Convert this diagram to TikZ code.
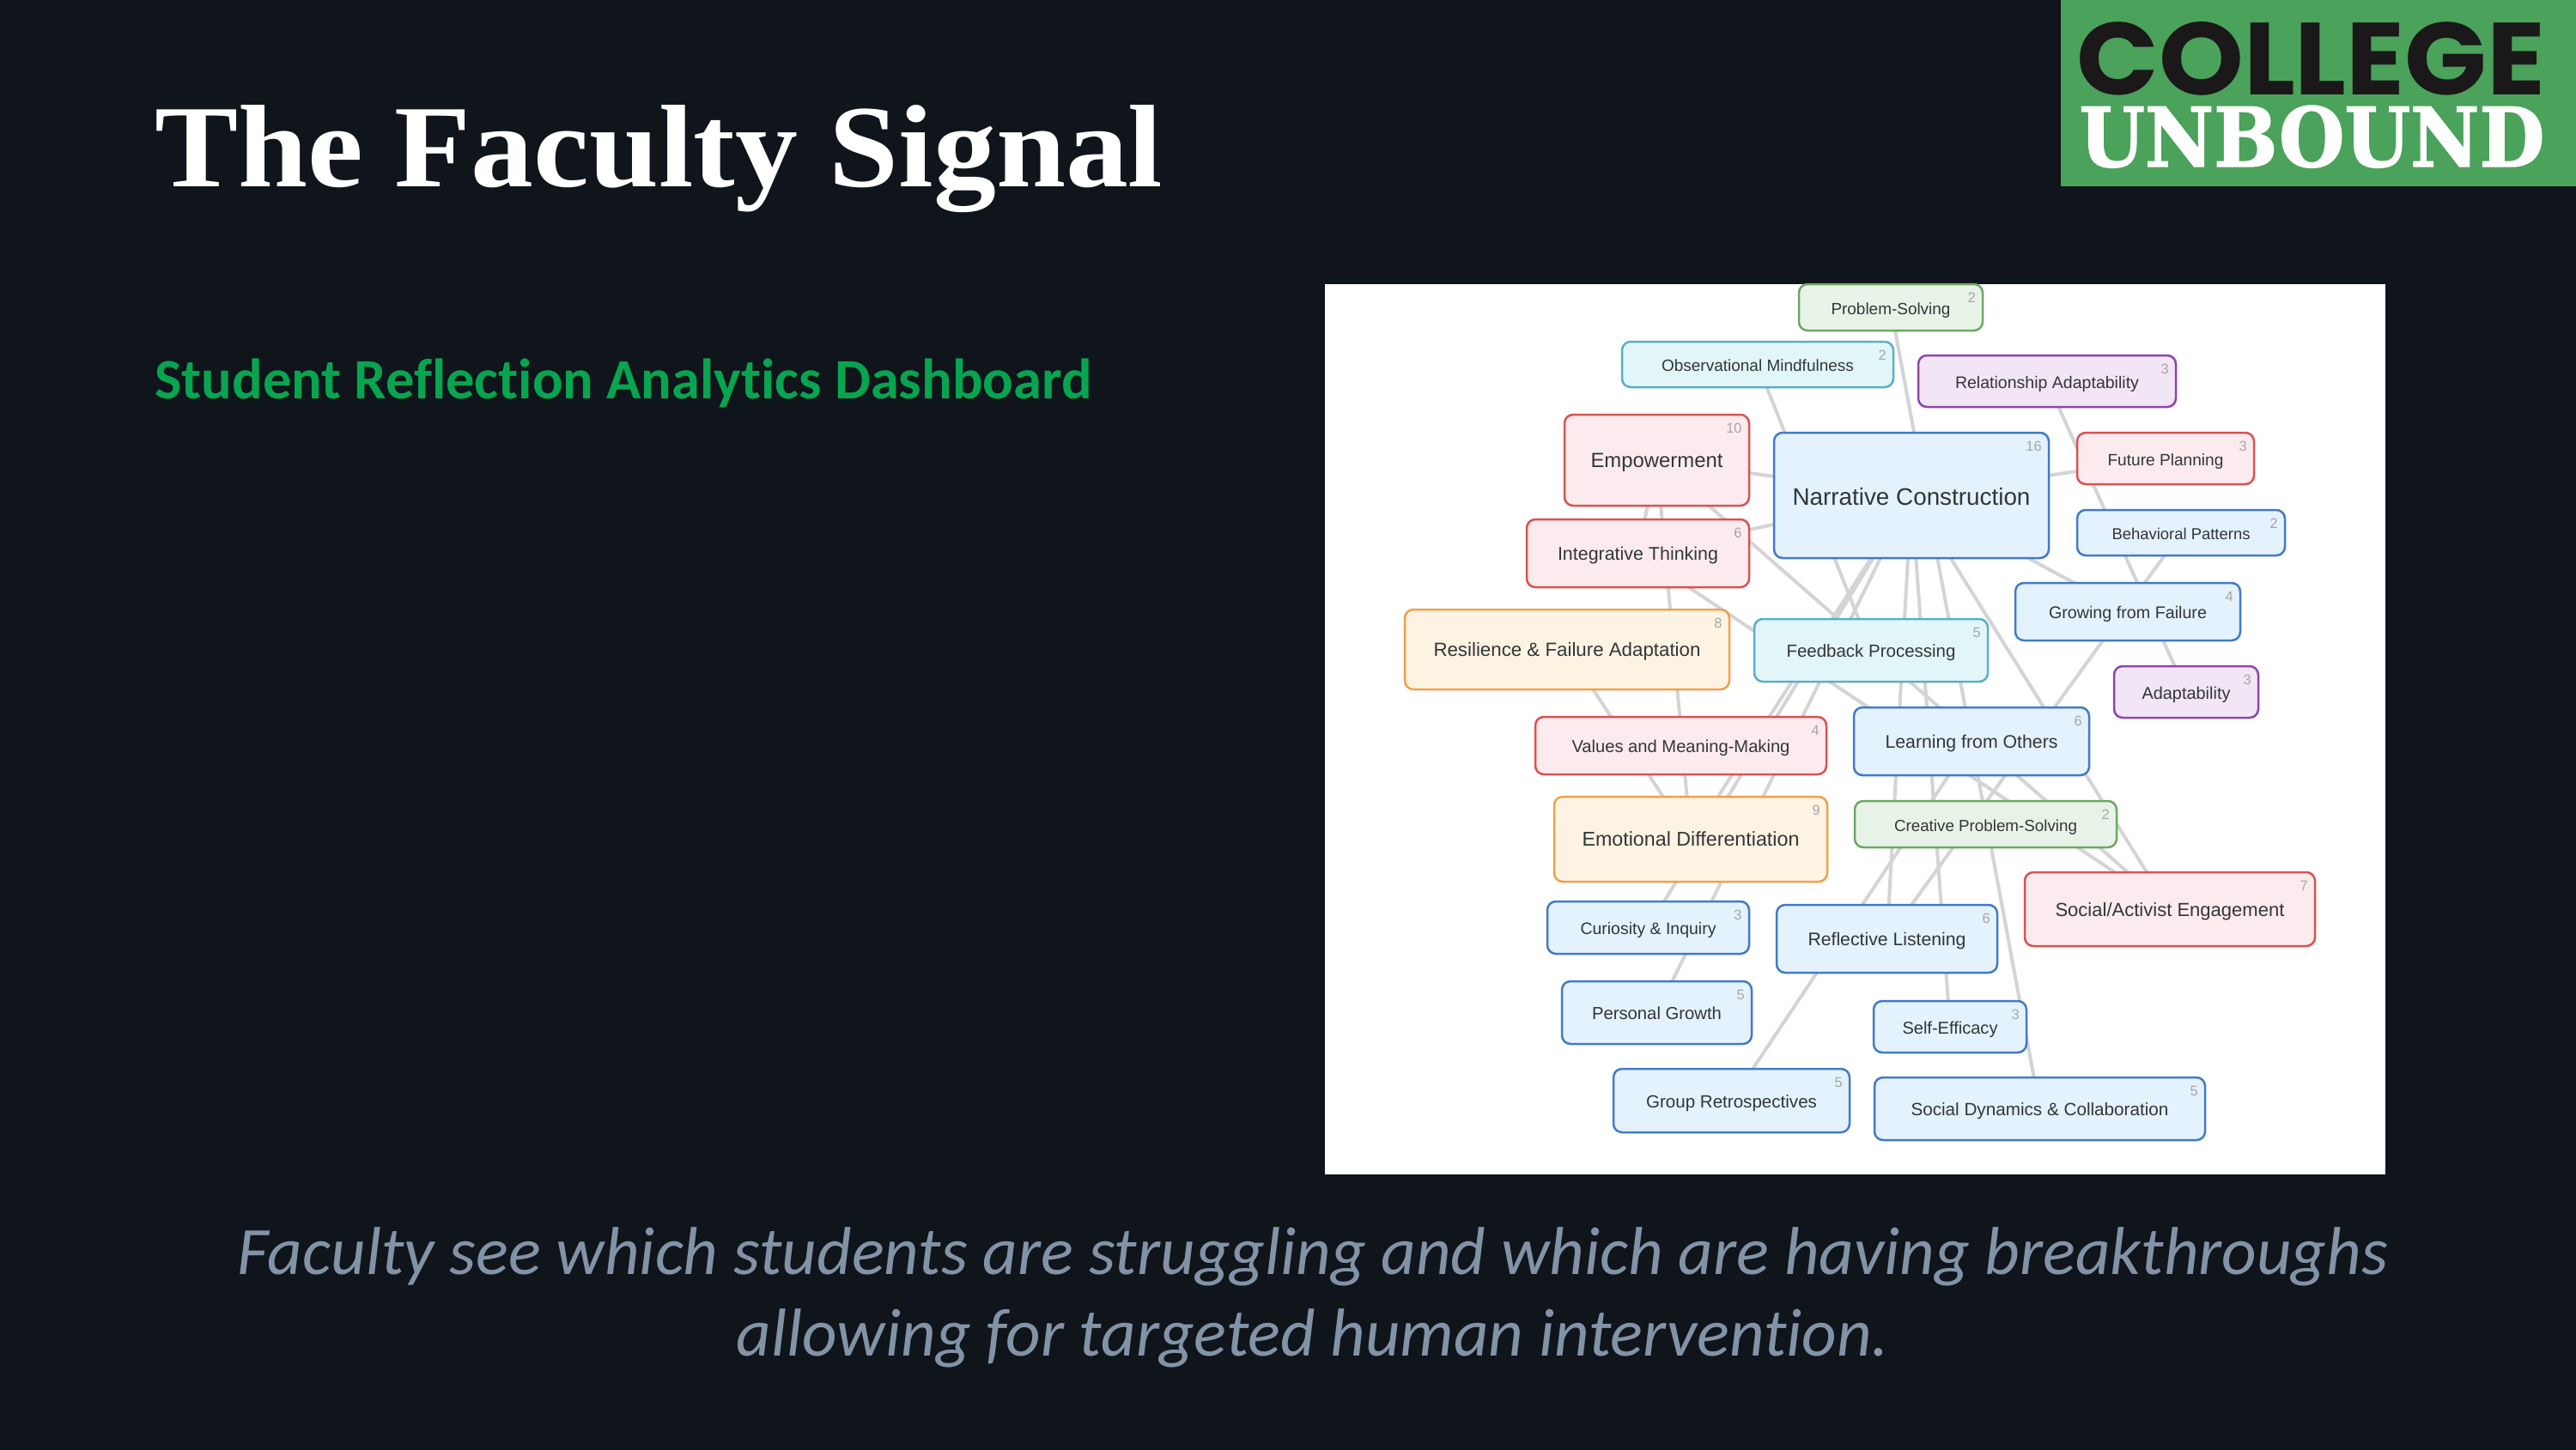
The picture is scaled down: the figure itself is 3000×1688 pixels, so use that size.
\documentclass[tikz,border=0pt]{standalone}
\usepackage{fontspec}
\usepackage{graphicx}
\setmainfont{Liberation Sans}
\newfontfamily\titlefont{Liberation Serif}
\newfontfamily\calfont[Ligatures=NoCommon]{Carlito}
\newfontfamily\logoa{Poppins}
\newfontfamily\logob[FakeBold=1.5]{DejaVu Serif}
\definecolor{pagebg}{HTML}{0F151A}
\definecolor{edgegray}{HTML}{D4D4D4}
\definecolor{txt}{HTML}{333638}
\definecolor{cnt}{HTML}{A6A6A6}
\definecolor{logogreen}{HTML}{4AA25B}
\definecolor{subgreen}{HTML}{07A550}
\definecolor{footgray}{HTML}{8393A7}
\pgfdeclarelayer{nodes}
\pgfsetlayers{main,nodes}
\tikzset{
  x=0.5pt,y=-0.5pt,
  box/.style={draw,rectangle,rounded corners=5pt,line width=1.25pt,inner sep=0pt,outer sep=0pt},
  blue/.style={box,draw={rgb,255:red,66;green,122;blue,200},fill={rgb,255:red,227;green,242;blue,253}},
  red/.style={box,draw={rgb,255:red,217;green,83;blue,79},fill={rgb,255:red,252;green,235;blue,238}},
  orange/.style={box,draw={rgb,255:red,240;green,160;blue,75},fill={rgb,255:red,253;green,243;blue,227}},
  green/.style={box,draw={rgb,255:red,106;green,168;blue,99},fill={rgb,255:red,232;green,243;blue,232}},
  teal/.style={box,draw={rgb,255:red,90;green,176;blue,196},fill={rgb,255:red,226;green,245;blue,249}},
  purple/.style={box,draw={rgb,255:red,142;green,68;blue,173},fill={rgb,255:red,242;green,229;blue,245}},
  boxlabel/.style={anchor=base,inner sep=0pt,text=txt},
  countlabel/.style={anchor=base east,inner sep=0pt,text=cnt,font=\fontsize{8.2pt}{10pt}\selectfont},
  link/.style={draw=edgegray,line width=2pt},
}
\def\tdy{8}
% name, style, x1, y1, x2, y2, text width, text, count
\newcommand{\gnode}[9]{%
  \pgfmathsetmacro\gw{(#5-#3)*0.5}%
  \pgfmathsetmacro\gh{(#6-#4)*0.5}%
  \pgfmathsetmacro\gtw{#7*0.5}%
  \node[#2,minimum width=\gw pt,minimum height=\gh pt] (#1) at ({(#3+#5)/2},{(#4+#6)/2}) {};
  \node[boxlabel] (#1t) at ({(#3+#5)/2},{(#4+#6)/2+\tdy}) {\resizebox{\gtw pt}{!}{#8}};
  \node[countlabel] (#1c) at ({#5-8},{#4+21}) {#9};
}
\begin{document}
\begin{tikzpicture}
\useasboundingbox (0,0) rectangle (3000,1688);
\fill[pagebg] (-6,-6) rectangle (3006,1694);
% logo
\fill[logogreen] (2400,0) rectangle (3006,217);
\node[anchor=base west,inner sep=0pt,text={rgb,255:red,26;green,24;blue,24}] (logotop) at (2418,110) {\resizebox{273pt}{42.5pt}{\logoa\bfseries COLLEGE}};
\node[anchor=base west,inner sep=0pt,text=white] (logobot) at (2421,194) {\resizebox{271pt}{35.5pt}{\logob\bfseries UNBOUND}};
% title
\node[anchor=base west,inner sep=0pt,text=white] (title) at (180,217) {\resizebox{587pt}{47.5pt}{\titlefont\bfseries The Faculty Signal}};
\node[anchor=base west,inner sep=0pt,text=subgreen] (subtitle) at (180,464) {\resizebox{545.5pt}{!}{\calfont\bfseries Student Reflection Analytics Dashboard}};
\node[anchor=base,inner sep=0pt,text=footgray] (foot1) at (1529,1484) {\resizebox{1252pt}{!}{\calfont\itshape Faculty see which students are struggling and which are having breakthroughs}};
\node[anchor=base,inner sep=0pt,text=footgray] (foot2) at (1529,1579) {\resizebox{671pt}{!}{\calfont\itshape allowing for targeted human intervention.}};
% panel
\fill[white] (1543,331) rectangle (2778,1368);
\begin{pgfonlayer}{nodes}
\gnode{prob}{green}{2095}{331}{2309}{385}{139}{Problem-Solving}{2}
\gnode{obs}{teal}{1889}{398}{2205}{451}{224}{Observational Mindfulness}{2}
\gnode{emp}{red}{1822}{483}{2037}{589}{154}{Empowerment}{10}
\gnode{inte}{red}{1778}{605}{2037}{684}{187}{Integrative Thinking}{6}
\def\tdy{11}
\gnode{narr}{blue}{2066}{504}{2386}{650}{277}{Narrative Construction}{16}
\def\tdy{8}
\gnode{rel}{purple}{2234}{414}{2534}{474}{214}{Relationship Adaptability}{3}
\gnode{fut}{red}{2419}{504}{2625}{564}{135}{Future Planning}{3}
\gnode{beh}{blue}{2419}{594}{2661}{647}{161}{Behavioral Patterns}{2}
\gnode{grow}{blue}{2347}{679}{2609}{746}{184}{Growing from Failure}{4}
\gnode{res}{orange}{1636}{710}{2014}{803}{311}{Resilience \& Failure Adaptation}{8}
\gnode{feed}{teal}{2043}{721}{2315}{794}{197}{Feedback Processing}{5}
\gnode{val}{red}{1788}{835}{2127}{902}{254}{Values and Meaning-Making}{4}
\gnode{emo}{orange}{1810}{928}{2128}{1027}{253}{Emotional Differentiation}{9}
\gnode{learn}{blue}{2159}{824}{2433}{903}{201}{Learning from Others}{6}
\gnode{adapt}{purple}{2462}{776}{2630}{836}{103}{Adaptability}{3}
\gnode{crea}{green}{2160}{933}{2465}{987}{213}{Creative Problem-Solving}{2}
\gnode{soc}{red}{2358}{1016}{2696}{1102}{267}{Social/Activist Engagement}{7}
\gnode{cur}{blue}{1802}{1050}{2037}{1111}{158}{Curiosity \& Inquiry}{3}
\gnode{refl}{blue}{2069}{1054}{2326}{1133}{184}{Reflective Listening}{6}
\gnode{pers}{blue}{1819}{1143}{2040}{1216}{151}{Personal Growth}{5}
\gnode{group}{blue}{1879}{1245}{2154}{1319}{199}{Group Retrospectives}{5}
\gnode{self}{blue}{2182}{1166}{2360}{1226}{111}{Self-Efficacy}{3}
\gnode{dyn}{blue}{2183}{1255}{2568}{1328}{300}{Social Dynamics \& Collaboration}{5}
\end{pgfonlayer}
% connectors (centre to centre, hidden behind the boxes)
\foreach \a/\b in {obs/feed,prob/learn,rel/adapt,emp/narr,inte/narr,narr/fut,narr/grow,beh/refl,narr/soc,narr/self,narr/refl,narr/pers,narr/emo,narr/cur,emp/soc,inte/soc,emp/emo,emp/inte,res/emo,learn/group,learn/dyn}
  \draw[link] (\a.center) -- (\b.center);
\end{tikzpicture}
\end{document}
